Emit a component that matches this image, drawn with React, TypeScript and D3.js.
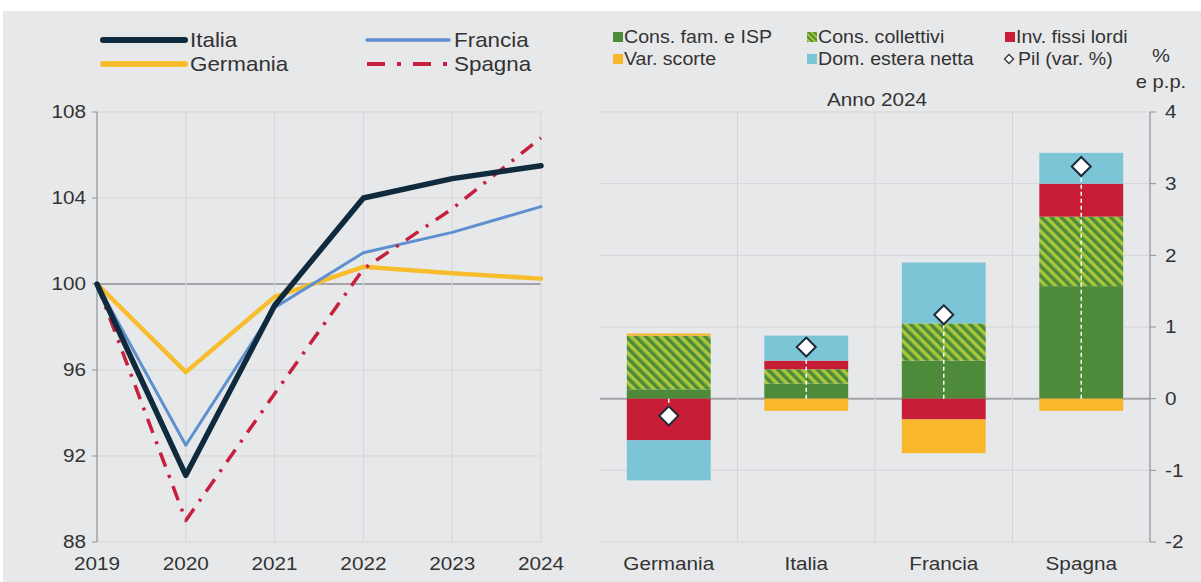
import React from 'react';
import * as d3 from 'd3';

// left panel: GDP index 2019 = 100
const years = ['2019', '2020', '2021', '2022', '2023', '2024'];
const italia = [100, 91.1, 99.0, 104.0, 104.9, 105.5];
const germania = [100, 95.9, 99.4, 100.8, 100.5, 100.25];
const francia = [100, 92.5, 98.9, 101.45, 102.4, 103.6];
const spagna = [100, 89.0, 94.9, 100.7, 103.5, 106.8];
const leftTicks = [88, 92, 96, 100, 104, 108];

// right panel: contributions to growth, 2024
const countries = ['Germania', 'Italia', 'Francia', 'Spagna'];
const consFam = [0.13, 0.21, 0.53, 1.57];
const consColl = [0.75, 0.2, 0.52, 0.97];
const invFissi = [-0.58, 0.12, -0.29, 0.46];
const varScorte = [0.03, -0.17, -0.47, -0.17];
const domEstera = [-0.56, 0.35, 0.85, 0.43];
const pil = [-0.24, 0.72, 1.17, 3.24];
const rightTicks = [-2, -1, 0, 1, 2, 3, 4];

const FONT = '"Liberation Sans", Arial, sans-serif';
const TXT = '#333';
const BG = '#e7e8ea';
const GRID = '#d4d5d8';
const ZERO = '#a4a5a8';
const SX = 1.12; // the source text is a little wider than Arial

const C = {
  green: '#4d8a3a',
  hatchLight: '#a9c73b',
  red: '#c81d37',
  yellow: '#f9b82b',
  blue: '#7bc5d6',
  navy: '#0f2a3c',
  gold: '#f8bd2d',
  lightBlue: '#5e90d0',
  spain: '#c7203f',
};

type TProps = {
  x: number;
  y: number;
  size: number;
  anchor?: 'start' | 'middle' | 'end';
  children: React.ReactNode;
};
const T = ({ x, y, size, anchor = 'start', children }: TProps) => (
  <text
    transform={`translate(${x},${y}) scale(${SX},1)`}
    dy="0.35em"
    textAnchor={anchor}
    fontSize={size}
    fill={TXT}
  >
    {children}
  </text>
);

const App: React.FC = () => {
  // ---- left chart scales
  const x = d3.scalePoint<string>().domain(years).range([97, 541]);
  const y = d3.scaleLinear().domain([88, 108]).range([542, 112]);
  const line = d3
    .line<number>()
    .x((_, i) => x(years[i]) as number)
    .y((d) => y(d));

  const lineSeries = [
    { name: 'Germania', data: germania, color: C.gold, width: 4.5, dash: undefined },
    { name: 'Francia', data: francia, color: C.lightBlue, width: 3, dash: undefined },
    { name: 'Spagna', data: spagna, color: C.spain, width: 3.5, dash: '15 9 3 9' },
    { name: 'Italia', data: italia, color: C.navy, width: 5.5, dash: undefined },
  ];

  // ---- right chart scales
  const xb = d3.scaleBand<string>().domain(countries).range([600, 1150]).paddingInner(0.39).paddingOuter(0.195);
  const yb = d3.scaleLinear().domain([-2, 4]).range([542, 112]);

  const keys = ['consFam', 'consColl', 'invFissi', 'varScorte', 'domEstera'];
  const fills: Record<string, string> = {
    consFam: C.green,
    consColl: 'url(#hatch)',
    invFissi: C.red,
    varScorte: C.yellow,
    domEstera: C.blue,
  };
  const table = countries.map((c, i) => ({
    country: c,
    consFam: consFam[i],
    consColl: consColl[i],
    invFissi: invFissi[i],
    varScorte: varScorte[i],
    domEstera: domEstera[i],
  }));
  const stacked = d3.stack<any>().keys(keys).offset(d3.stackOffsetDiverging)(table);

  const diamond = (cx: number, cy: number, r: number) =>
    `M${cx},${cy - r}L${cx + r},${cy}L${cx},${cy + r}L${cx - r},${cy}Z`;

  const legendLeft = [
    { name: 'Italia', color: C.navy, width: 6, dash: undefined, x: 103, y: 40 },
    { name: 'Germania', color: C.gold, width: 6, dash: undefined, x: 103, y: 64 },
    { name: 'Francia', color: C.lightBlue, width: 3.5, dash: undefined, x: 367, y: 40 },
    { name: 'Spagna', color: C.spain, width: 4, dash: '18 12 4 12', x: 367, y: 64 },
  ];

  const legendRight = [
    { name: 'Cons. fam. e ISP', fill: C.green, x: 613, y: 37 },
    { name: 'Cons. collettivi', fill: 'url(#hatchSmall)', x: 807, y: 37 },
    { name: 'Inv. fissi lordi', fill: C.red, x: 1005, y: 37 },
    { name: 'Var. scorte', fill: C.yellow, x: 613, y: 59 },
    { name: 'Dom. estera netta', fill: C.blue, x: 807, y: 59 },
  ];

  return (
    <svg
      width={1201}
      height={582}
      style={{ position: 'absolute', left: 0, top: 0, fontFamily: FONT }}
    >
      <defs>
        <pattern id="hatch" patternUnits="userSpaceOnUse" width={7} height={7} patternTransform="rotate(-45)">
          <rect width={7} height={7} fill={C.hatchLight} />
          <rect width={3.5} height={7} fill={C.green} />
        </pattern>
        <pattern id="hatchSmall" patternUnits="userSpaceOnUse" width={4} height={4} patternTransform="rotate(-45)">
          <rect width={4} height={4} fill={C.hatchLight} />
          <rect width={2} height={4} fill={C.green} />
        </pattern>
      </defs>

      <rect width={1201} height={582} fill="#fff" />
      <rect x={3} y={11} width={1198} height={571} fill={BG} />

      {/* ================= left chart ================= */}
      {leftTicks.map((t) => (
        <line key={'hg' + t} x1={97} x2={541} y1={y(t)} y2={y(t)} stroke={t === 100 ? ZERO : GRID} strokeWidth={t === 100 ? 2 : 1} />
      ))}
      {years.slice(1).map((yr) => (
        <line key={'vg' + yr} x1={x(yr)} x2={x(yr)} y1={112} y2={542} stroke={GRID} strokeWidth={1} />
      ))}
      <line x1={97} x2={97} y1={112} y2={542} stroke="#8e8f92" strokeWidth={1.2} />
      {leftTicks.map((t) => (
        <g key={'yt' + t}>
          <line x1={92} x2={97} y1={y(t)} y2={y(t)} stroke="#8e8f92" />
          <T x={86} y={y(t)} size={18.5} anchor="end">
            {t}
          </T>
        </g>
      ))}
      {years.map((yr) => (
        <T key={'xl' + yr} x={x(yr) as number} y={564} size={18.5} anchor="middle">
          {yr}
        </T>
      ))}
      {lineSeries.map((s) => (
        <path
          key={s.name}
          d={line(s.data) || ''}
          fill="none"
          stroke={s.color}
          strokeWidth={s.width}
          strokeDasharray={s.dash}
          strokeLinejoin="round"
          strokeLinecap={s.dash ? 'butt' : 'round'}
        />
      ))}

      {legendLeft.map((l) => (
        <g key={'ll' + l.name}>
          <line x1={l.x} x2={l.x + 82} y1={l.y} y2={l.y} stroke={l.color} strokeWidth={l.width} strokeDasharray={l.dash} strokeLinecap={l.dash ? 'butt' : 'round'} />
          <T x={l.x + 87} y={l.y} size={20}>
            {l.name}
          </T>
        </g>
      ))}

      {/* ================= right chart ================= */}
      {rightTicks.map((t) => (
        <line key={'rh' + t} x1={600} x2={1150} y1={yb(t)} y2={yb(t)} stroke={t === 0 ? ZERO : GRID} strokeWidth={t === 0 ? 2 : 1} />
      ))}
      {countries.slice(1).map((c) => {
        const bx = (xb(c) as number) - (xb.step() - xb.bandwidth()) / 2;
        return <line key={'rv' + c} x1={bx} x2={bx} y1={112} y2={542} stroke={GRID} strokeWidth={1} />;
      })}

      {stacked.map((layer) => (
        <g key={layer.key} fill={fills[layer.key]}>
          {layer.map((d: any) => (
            <rect
              key={d.data.country}
              x={xb(d.data.country)}
              width={xb.bandwidth()}
              y={yb(Math.max(d[0], d[1]))}
              height={Math.abs(yb(d[0]) - yb(d[1]))}
            />
          ))}
        </g>
      ))}

      {countries.map((c, i) => {
        const cx = (xb(c) as number) + xb.bandwidth() / 2;
        return (
          <g key={'pil' + c}>
            <line x1={cx} x2={cx} y1={yb(0)} y2={yb(pil[i])} stroke="#fff" strokeWidth={1.5} strokeDasharray="4 3" />
            <path d={diamond(cx, yb(pil[i]), 9.5)} fill="#fff" stroke="#1b2b3a" strokeWidth={2} />
          </g>
        );
      })}

      <line x1={1150} x2={1150} y1={112} y2={542} stroke="#8e8f92" strokeWidth={1.2} />
      {rightTicks.map((t) => (
        <g key={'rt' + t}>
          <line x1={1150} x2={1156} y1={yb(t)} y2={yb(t)} stroke="#8e8f92" />
          <T x={1165} y={yb(t)} size={18.5}>
            {t}
          </T>
        </g>
      ))}
      {countries.map((c) => (
        <T key={'cl' + c} x={(xb(c) as number) + xb.bandwidth() / 2} y={564} size={18.5} anchor="middle">
          {c}
        </T>
      ))}

      <T x={877} y={100} size={18.5} anchor="middle">
        Anno 2024
      </T>
      <T x={1161} y={56} size={18} anchor="middle">
        %
      </T>
      <T x={1161} y={82} size={18} anchor="middle">
        e p.p.
      </T>

      {legendRight.map((l) => (
        <g key={'lr' + l.name}>
          <rect x={l.x} y={l.y - 5} width={10} height={10} fill={l.fill} />
          <T x={l.x + 11} y={l.y} size={17.5}>
            {l.name}
          </T>
        </g>
      ))}
      <path d={diamond(1009, 59, 4.5)} fill="#fff" stroke="#333" strokeWidth={1.3} />
      <T x={1018} y={59} size={17.5}>
        Pil (var. %)
      </T>
    </svg>
  );
};

export default App;
